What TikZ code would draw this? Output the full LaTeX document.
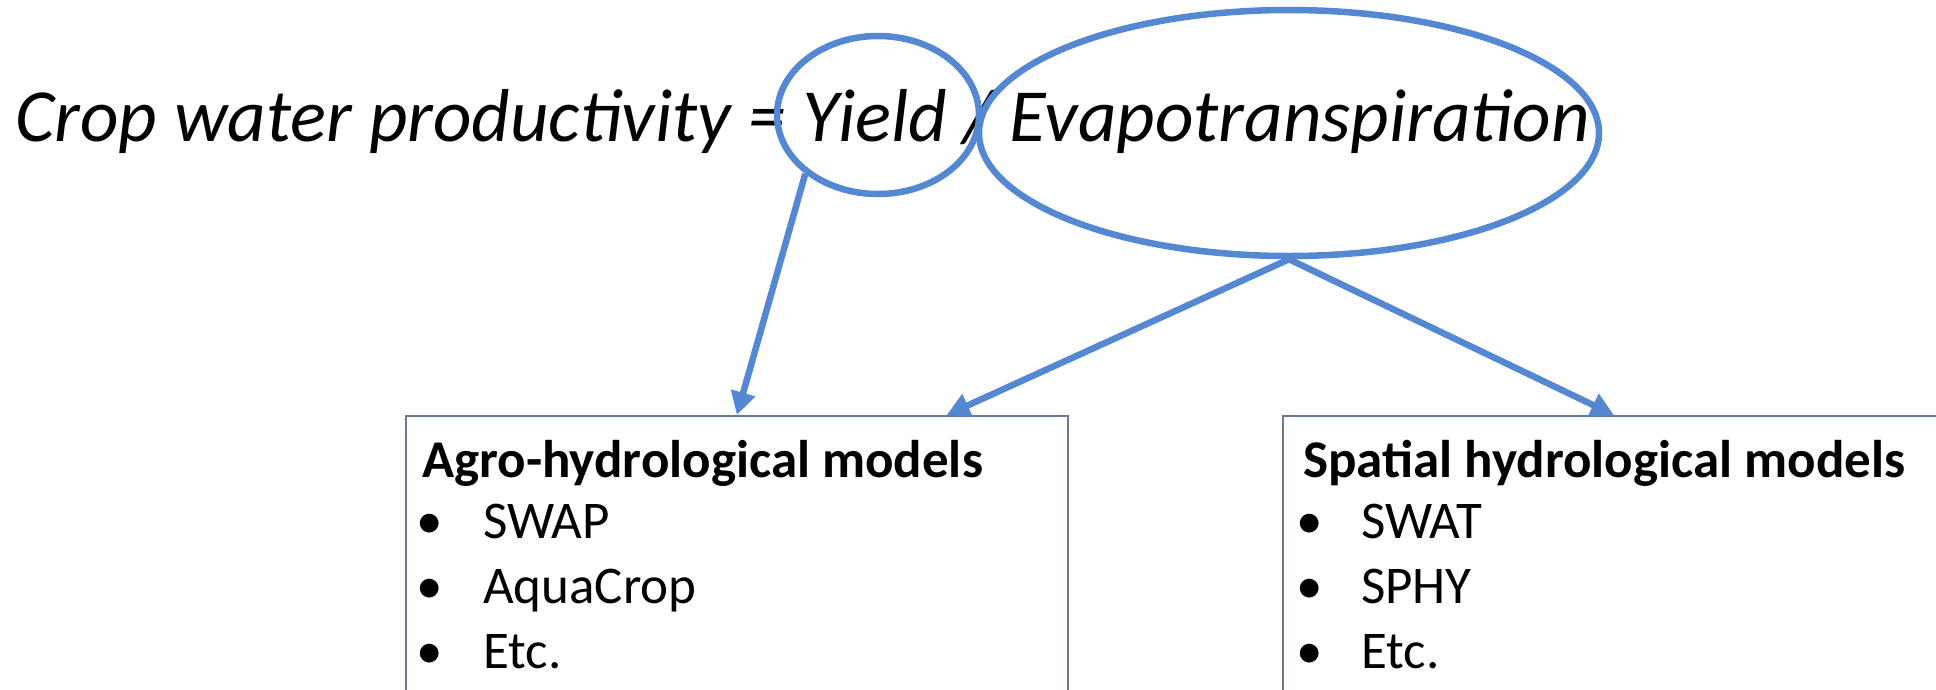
\documentclass[tikz,border=0pt]{standalone}
\usepackage{fontspec}
\setmainfont{Carlito}
\usetikzlibrary{arrows.meta,shapes.geometric,calc}
\definecolor{eblue}{RGB}{85,136,210}
\definecolor{boxline}{RGB}{105,122,150}
\tikzset{
  x=1pt,y=1pt,
  ring/.style={draw=eblue,line width=6.5pt,ellipse,inner sep=0pt},
  conn/.style={draw=eblue,line width=6.5pt,-{Triangle[length=23pt,width=24pt]}},
  modelbox/.style={draw=boxline,line width=1.8pt,minimum width=662pt,minimum height=300pt,anchor=north west,inner sep=0pt},
  boxtext/.style={anchor=base west,inner sep=0pt,font=\fontsize{53}{64}\selectfont},
  headtext/.style={boxtext,font=\fontsize{53}{64}\selectfont\bfseries},
  bul/.style={anchor=base,inner sep=0pt,font=\fontsize{53}{64}\selectfont},
}
\begin{document}
\begin{tikzpicture}
\useasboundingbox (0,0) rectangle (1936,-689);
\clip (0,0) rectangle (1936,-689);
\fill[white] (0,0) rectangle (1936,-689);
\node[anchor=base west,inner sep=0pt,font=\fontsize{75}{86}\selectfont\itshape] (title) at (15,-141)
  {Crop water productivity = Yield / Evapotranspiration};
\node[ring,minimum width=202pt,minimum height=158pt] (yl) at (878,-115) {};
\node[ring,minimum width=620pt,minimum height=246pt] (et) at (1289,-133) {};
\node[modelbox] (lb) at (405,-415) {};
\node[modelbox] (rb) at (1282,-415) {};
% left box contents
\node[headtext] (lh) at (422,-477) {Agro-hydrological models};
\node[bul] (lb1) at (430,-538) {•};
\node[bul] (lb2) at (430,-603) {•};
\node[bul] (lb3) at (430,-668) {•};
\node[boxtext] (li1) at (483,-538) {SWAP};
\node[boxtext] (li2) at (483,-603) {AquaCrop};
\node[boxtext] (li3) at (483,-668) {Etc.};
% right box contents
\node[headtext] (rh) at (1303,-477) {Spatial hydrological models};
\node[bul] (rb1) at (1310,-538) {•};
\node[bul] (rb2) at (1310,-603) {•};
\node[bul] (rb3) at (1310,-668) {•};
\node[boxtext] (ri1) at (1361,-538) {SWAT};
\node[boxtext] (ri2) at (1361,-603) {SPHY};
\node[boxtext] (ri3) at (1361,-668) {Etc.};
% connectors
\draw[conn] (yl.219) -- (lb.north);
\draw[conn] (et.south) -- ($(lb.north west)!0.816!(lb.north east)$);
\draw[conn] (et.south) -- (rb.north);
\end{tikzpicture}
\end{document}
